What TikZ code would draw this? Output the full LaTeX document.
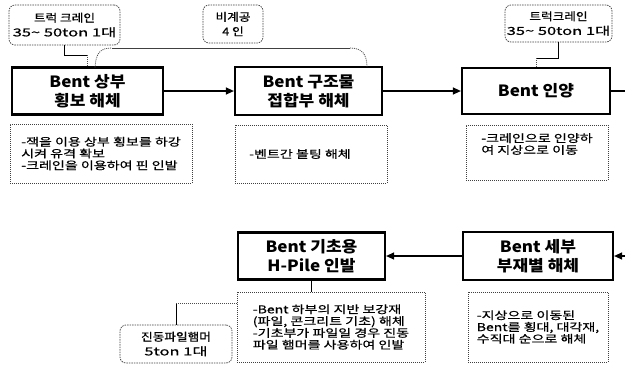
\documentclass[tikz,border=0pt]{standalone}
\usepackage{fontspec}
\setmainfont{Noto Sans CJK KR}
\newfontfamily\fttl{Noto Sans CJK KR}[FakeStretch=1.1]
\newfontfamily\fbody{Noto Sans CJK KR}[FakeStretch=1.3,FakeBold=0.6]
\newfontfamily\fcall{Noto Sans CJK KR}[FakeStretch=1.15,FakeBold=0.6]
\newfontfamily\fcallw{Noto Sans CJK KR}[FakeStretch=1.5,FakeBold=0.6]
\usetikzlibrary{arrows.meta}
\begin{document}
\begin{tikzpicture}[x=1pt,y=-1pt,
  mainbox/.style={draw=black, line width=2.2pt, align=center, inner sep=0pt,
    font=\fttl\bfseries\fontsize{15.5}{19}\selectfont},
  notebox/.style={draw=black!75, line width=0.6pt, dash pattern=on 1pt off 1pt,
    align=left, inner sep=0pt, font=\fbody\fontsize{10.8}{11.8}\selectfont},
  callbox/.style={draw=black!75, line width=0.7pt, dash pattern=on 1.5pt off 1pt,
    rounded corners=6pt, align=center, inner sep=0pt,
    font=\fcall\fontsize{11}{14.5}\selectfont},
  flow/.style={line width=1.2pt, -{Triangle[length=8pt,width=7pt]}},
  link/.style={line width=0.9pt},
  dlink/.style={line width=0.8pt, black!70, dash pattern=on 1pt off 1pt}]
\useasboundingbox (0,0) rectangle (625,365);

% main process boxes
\node[mainbox, minimum width=151pt, minimum height=47pt] (b1) at (87.5,91) {Bent 상부\\횡보 해체};
\node[mainbox, minimum width=147pt, minimum height=48pt] (b2) at (308.5,91) {Bent 구조물\\접합부 해체};
\node[mainbox, minimum width=148pt, minimum height=46pt] (b3) at (536,91) {Bent 인양};
\node[mainbox, minimum width=150pt, minimum height=48pt] (b4) at (538,256) {Bent 세부\\부재별 해체};
\node[mainbox, minimum width=147pt, minimum height=47pt] (b5) at (311.5,256) {Bent 기초용\\H-Pile 인발};

% note boxes
\node[notebox, minimum width=182pt, minimum height=59pt] (t1) at (101,153.5)
  {-잭을 이용 상부 횡보를 하강\\시켜 유격 확보\\-크레인을 이용하여 핀 인발};
\node[notebox, minimum width=152pt, minimum height=58pt] (t2) at (311,154)
  {-벤트간 볼팅 해체\hspace*{22pt}};
\node[notebox, minimum width=142pt, minimum height=55pt] (t3) at (537,152.5)
  {-크레인으로 인양하\\여 지상으로 이동\\[6pt]};
\node[notebox, minimum width=140pt, minimum height=70pt] (t4) at (538,327)
  {-지상으로 이동된\\Bent를 횡대, 대각재,\\수직대 순으로 해체};
\node[notebox, minimum width=188pt, minimum height=70pt] (t5) at (331,327)
  {-Bent 하부의 지반 보강재\\(파일, 콘크리트 기초) 해체\\-기초부가 파일일 경우 진동\\파일 햄머를 사용하여 인발};

% callouts
\node[callbox, minimum width=111pt, minimum height=40pt] (c1) at (64.5,25)
  {트럭 크레인\\{\fcallw 35\textasciitilde\ 50ton 1대}};
\node[callbox, minimum width=60pt, minimum height=38pt] (c2) at (233,24)
  {비계공\\4 인};
\node[callbox, minimum width=107pt, minimum height=37pt] (c3) at (558.5,23.5)
  {트럭크레인\\{\fcallw 35\textasciitilde\ 50ton 1대}};
\node[callbox, minimum width=112pt, minimum height=38pt] (c4) at (176,344)
  {진동파일햄머\\{\fcallw 5ton 1대}};

% flow arrows
\coordinate (e1) at (625,91);
\coordinate (e2) at (625,256);
\draw[flow] (b1.east) -- (b2.west);
\draw[flow] (b2.east) -- (b3.west);
\draw[line width=1.2pt] (b3.east) -- (e1);
\draw[flow] (e2) -- (b4.east);
\draw[flow] (b4.west) -- (b5.west -| b5.east);

% callout links
\coordinate (k1) at (87.5,55);
\draw[link] (c1.south) |- (k1);
\draw[dlink] (k1) -- (b1.north);
\coordinate (k3) at (536,58);
\draw[link] (c3.south) |- (k3);
\draw[dlink] (k3) -- (b3.north);

% bracket for c2
\coordinate (br1) at (95,67.5);
\coordinate (br1a) at (112,48);
\coordinate (br2a) at (350,48);
\coordinate (br2) at (367,67.5);
\draw[dlink] (br1) .. controls (96,53) and (100,48) .. (br1a);
\draw[line width=0.8pt, black!75] (br1a) -- (br2a);
\draw[dlink] (br2a) .. controls (362,48) and (367,54) .. (br2);

% lower links
\draw[link] (b5.south) -- (b5.south |- t5.north);
\coordinate (k4) at (176,303);
\draw[link] (c4.north) -- (k4);
\draw[dlink] (k4) -- (k4 -| t5.west);
\end{tikzpicture}
\end{document}
